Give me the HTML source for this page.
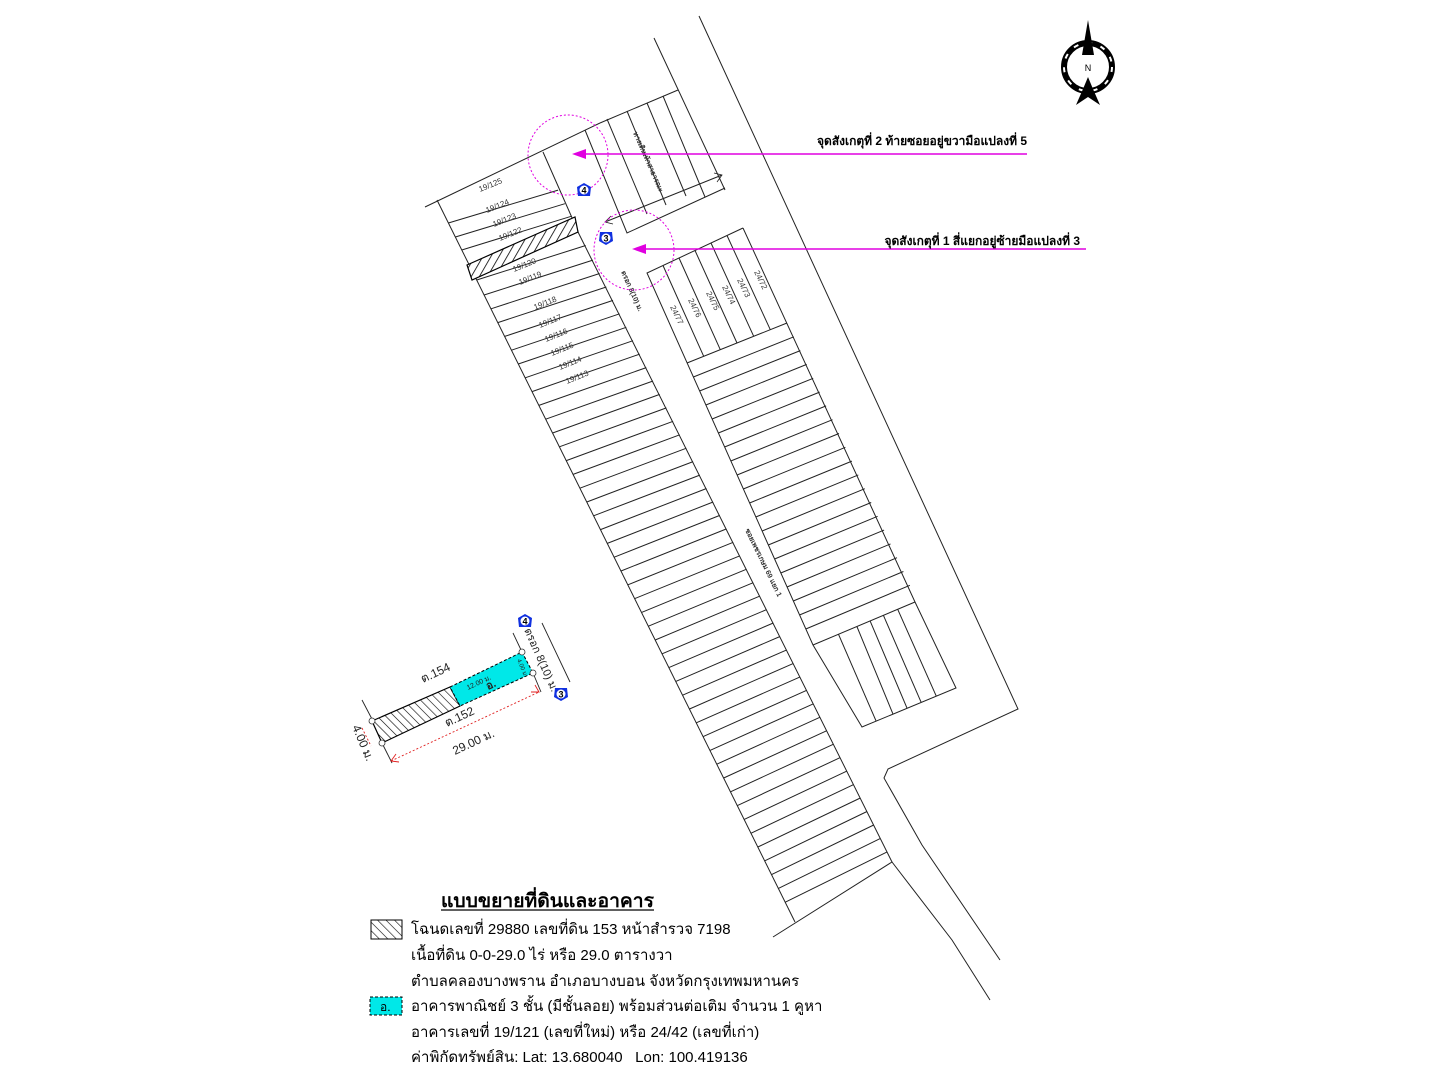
<!DOCTYPE html>
<html><head><meta charset="utf-8">
<style>
html,body{margin:0;padding:0;background:#fff;}
svg{display:block;}
text{font-family:"Liberation Sans","Noto Sans CJK SC",sans-serif;}
.leg{font-size:15px;fill:#000;}
</style></head>
<body>
<svg id="s" width="1440" height="1080" viewBox="0 0 1440 1080" xmlns="http://www.w3.org/2000/svg">
<defs>
<pattern id="hatch" width="7" height="7" patternUnits="userSpaceOnUse" patternTransform="rotate(30)">
<rect width="7" height="7" fill="#fff"/><line x1="0" y1="0" x2="0" y2="7" stroke="#000" stroke-width="1.6"/>
</pattern>
<pattern id="hatch2" width="6" height="6" patternUnits="userSpaceOnUse" patternTransform="rotate(-45)">
<rect width="6" height="6" fill="#fff"/><line x1="0" y1="0" x2="0" y2="6" stroke="#000" stroke-width="1.2"/>
</pattern>
</defs>
<g id="map" stroke="#222" stroke-width="1" fill="none">
<polyline points="699,16 1018,709 888,769 884,778 922,845 1000,960"/>
<polyline points="773,937 892,862 952,940 990,1000" />
<line x1="654" y1="38" x2="725" y2="190"/>
<polyline points="600,123 678,90"/>
<polyline points="585,130 627,233 725,188"/>
<line x1="605" y1="222" x2="722" y2="175"/>
<line x1="607" y1="119" x2="647" y2="214"/>
<line x1="627" y1="111" x2="666" y2="205"/>
<line x1="647" y1="103" x2="686" y2="196"/>
<line x1="663" y1="96" x2="705" y2="197"/>
<polyline points="425,207 600,123"/>
<polyline points="437,200 795,922"/>
<polyline points="543,152 573,220 578,232 892,862"/>
<polyline points="743,228 647,273 813,645 862,727 956,688 915,602 743,228"/>
<line x1="687" y1="363" x2="787" y2="323"/>
<line x1="813" y1="645" x2="915" y2="602"/>
</g>
<g id="lots" stroke="#222" stroke-width="1" fill="none"></g>
<polygon points="467,265 575,217 578,232 472,280" fill="url(#hatch)" stroke="#000" stroke-width="1.2"/>
<g font-size="8" fill="#333">
<text transform="translate(480,192) rotate(-22)">19/125</text>
<text transform="translate(487,213) rotate(-22)">19/124</text>
<text transform="translate(494,227) rotate(-22)">19/123</text>
<text transform="translate(500,241) rotate(-22)">19/122</text>
<text transform="translate(514,272) rotate(-22)">19/120</text>
<text transform="translate(520,285) rotate(-22)">19/119</text>
<text transform="translate(535,310) rotate(-22)">19/118</text>
<text transform="translate(540,328) rotate(-22)">19/117</text>
<text transform="translate(546,342) rotate(-22)">19/116</text>
<text transform="translate(552,356) rotate(-22)">19/115</text>
<text transform="translate(560,370) rotate(-22)">19/114</text>
<text transform="translate(567,384) rotate(-22)">19/113</text>
<text transform="translate(754,272) rotate(64)">24/72</text>
<text transform="translate(737,280) rotate(64)">24/73</text>
<text transform="translate(722,287) rotate(64)">24/74</text>
<text transform="translate(706,293) rotate(64)">24/75</text>
<text transform="translate(688,300) rotate(64)">24/76</text>
<text transform="translate(670,307) rotate(64)">24/77</text>
<text transform="translate(633,133) rotate(66)" font-weight="bold" font-size="7">ทางเดินเท้าสาธารณะ</text>
<text transform="translate(621,272) rotate(66)" font-weight="bold" font-size="7">ตรอก 8(10) ม.</text>
<text transform="translate(745,530) rotate(64)" font-weight="bold" font-size="7">ซอยเพชรเกษม 69 แยก 1</text>
</g>
<g stroke="#222" fill="none" stroke-width="0.8"><path d="M611,216 L605,222 L613,224"/><path d="M714,173 L722,175 L717,182"/></g>
<g stroke="#e000e0" fill="none">
<circle cx="568" cy="155" r="40" stroke-dasharray="2,2"/>
<circle cx="634" cy="250" r="40" stroke-dasharray="2,2"/>
<line x1="585" y1="154" x2="1027" y2="154" stroke-width="1.5"/>
<line x1="645" y1="249" x2="1086" y2="249" stroke-width="1.5"/>
</g>
<polygon points="572,154 586,149 586,159" fill="#e000e0"/>
<polygon points="632,249 646,244 646,254" fill="#e000e0"/>
<g font-size="12" font-weight="bold" fill="#000">
<text x="1027" y="145" text-anchor="end">จุดสังเกตุที่ 2 ท้ายซอยอยู่ขวามือแปลงที่ 5</text>
<text x="1080" y="245" text-anchor="end">จุดสังเกตุที่ 1 สี่แยกอยู่ซ้ายมือแปลงที่ 3</text>
</g>
<g id="mk" font-size="9" font-weight="bold" text-anchor="middle">
<g transform="translate(584,190)"><polygon points="0,-7 7,-3 6,6 -6,6 -7,-3" fill="#1030e0"/><circle r="5" fill="#fff" stroke="#1030e0"/><text y="3.5" fill="#000">4</text></g>
<g transform="translate(606,238)"><polygon points="0,7 7,3 6,-6 -6,-6 -7,3" fill="#1030e0"/><circle r="5" fill="#fff" stroke="#1030e0"/><text y="3.5" fill="#000">3</text></g>
<g transform="translate(525,621)"><polygon points="0,-7 7,-3 6,6 -6,6 -7,-3" fill="#1030e0"/><circle r="5" fill="#fff" stroke="#1030e0"/><text y="3.5" fill="#000">4</text></g>
<g transform="translate(561,694)"><polygon points="0,7 7,3 6,-6 -6,-6 -7,3" fill="#1030e0"/><circle r="5" fill="#fff" stroke="#1030e0"/><text y="3.5" fill="#000">3</text></g>
</g>
<g transform="translate(1088,67)">
<circle r="24" fill="none" stroke="#000" stroke-width="6"/>
<circle r="24" fill="none" stroke="#fff" stroke-width="2" stroke-dasharray="5,9"/>
<polygon points="0,-47 -6,-12 6,-12" fill="#000"/>
<polygon points="0,10 -5,22 -12,38 0,30 12,38 5,22" fill="#000"/>
<text y="4" font-size="9" text-anchor="middle" fill="#000">N</text>
</g>
<g stroke="#222" fill="none" stroke-width="0.9">
<line x1="362" y1="700" x2="373" y2="721"/>
<line x1="382" y1="743" x2="392" y2="763"/>
<line x1="513" y1="633" x2="522" y2="652"/>
<line x1="533" y1="673" x2="541" y2="692"/>
<line x1="542" y1="623" x2="570" y2="682"/>
</g>
<polygon points="372,721 450,687 460,706 382,743" fill="url(#hatch2)" stroke="#000" stroke-width="1.2"/>
<polygon points="450,687 522,652 533,673 460,706" fill="#00e8e8" stroke="#000" stroke-width="1" stroke-dasharray="3,2"/>
<g fill="#fff" stroke="#333" stroke-width="0.8"><circle cx="372" cy="721" r="3"/><circle cx="382" cy="743" r="3"/><circle cx="522" cy="652" r="3"/><circle cx="533" cy="673" r="3"/></g>
<g stroke="#e02020" fill="none" stroke-width="0.9" stroke-dasharray="2,2">
<line x1="391" y1="761" x2="539" y2="692"/>
<line x1="362" y1="728" x2="371" y2="746"/>
</g>
<g stroke="#e02020" fill="none" stroke-width="0.9"><path d="M396,754 L391,761 L399,762"/><path d="M531,692 L539,692 L535,685"/></g>
<g fill="#222">
<text transform="translate(423,683) rotate(-25)" font-size="12">ต.154</text>
<text transform="translate(447,727) rotate(-25)" font-size="12">ต.152</text>
<text transform="translate(455,755) rotate(-25)" font-size="12">29.00 ม.</text>
<text transform="translate(352,727) rotate(67)" font-size="12">4.00 ม.</text>
<text transform="translate(468,690) rotate(-25)" font-size="7">12.00 ม.</text>
<text transform="translate(488,690) rotate(-25)" font-size="11" font-weight="bold">อ.</text>
<text transform="translate(517,660) rotate(67)" font-size="6">4.00 ม.</text>
<text transform="translate(524,630) rotate(66)" font-size="11">ตรอก 8(10) ม.</text>
</g>
<text x="441" y="907" font-size="19" font-weight="bold" fill="#000" textLength="213" lengthAdjust="spacingAndGlyphs">แบบขยายที่ดินและอาคาร</text>
<line x1="441" y1="910" x2="654" y2="910" stroke="#000" stroke-width="1.3"/>
<rect x="371" y="920" width="31" height="19" fill="url(#hatch2)" stroke="#000"/>
<rect x="370" y="997" width="32" height="18" fill="#00e8e8" stroke="#000" stroke-dasharray="3,2"/>
<text x="380" y="1011" font-size="12" fill="#000">อ.</text>
<text class="leg" x="411" y="934">โฉนดเลขที่ 29880 เลขที่ดิน 153 หน้าสำรวจ 7198</text>
<text class="leg" x="411" y="960">เนื้อที่ดิน 0-0-29.0 ไร่ หรือ 29.0 ตารางวา</text>
<text class="leg" x="411" y="986">ตำบลคลองบางพราน อำเภอบางบอน จังหวัดกรุงเทพมหานคร</text>
<text class="leg" x="411" y="1011">อาคารพาณิชย์ 3 ชั้น (มีชั้นลอย) พร้อมส่วนต่อเติม จำนวน 1 คูหา</text>
<text class="leg" x="411" y="1037">อาคารเลขที่ 19/121 (เลขที่ใหม่) หรือ 24/42 (เลขที่เก่า)</text>
<text class="leg" x="411" y="1062">ค่าพิกัดทรัพย์สิน: Lat: 13.680040&#160;&#160;&#160;Lon: 100.419136</text>
</svg>
<script>
(function(){
var g=document.getElementById('lots'),NS='http://www.w3.org/2000/svg';
function L(a,b,c,d){var l=document.createElementNS(NS,'line');l.setAttribute('x1',a.toFixed(1));l.setAttribute('y1',b.toFixed(1));l.setAttribute('x2',c.toFixed(1));l.setAttribute('y2',d.toFixed(1));g.appendChild(l);}
var ys=[223,237,250,265,280];
for(var y=295;y<915;y+=13.8) ys.push(y);
ys.forEach(function(yl){
 var xL=437+0.496*(yl-200);
 var m=-0.3-0.2*(yl-223)/700;
 var x=(573+0.497*(yl-220-m*xL))/(1-0.497*m);
 L(xL,yl,x,yl+m*(x-xL));
});
var tA=[647,273],tB=[743,228],bA=[687,363],bB=[787,323];
for(var i=1;i<6;i++){var t=i/6;L(tA[0]+(tB[0]-tA[0])*t,tA[1]+(tB[1]-tA[1])*t,bA[0]+(bB[0]-bA[0])*t,bA[1]+(bB[1]-bA[1])*t);}
for(var yl=377;yl<640;yl+=14){
 var xL=647+0.446*(yl-273);
 var m=-0.4-0.02*(yl-377)/260;
 var x=(743+0.467*(yl-228-m*xL))/(1-0.467*m);
 L(xL,yl,x,yl+m*(x-xL));
}
var tp=[.25,.43,.56,.69,.83],bt=[.15,.33,.48,.63,.79];
for(var i=0;i<5;i++){L(813+102*tp[i],645-43*tp[i],862+94*bt[i],727-39*bt[i]);}
})();
</script>
</body></html>
